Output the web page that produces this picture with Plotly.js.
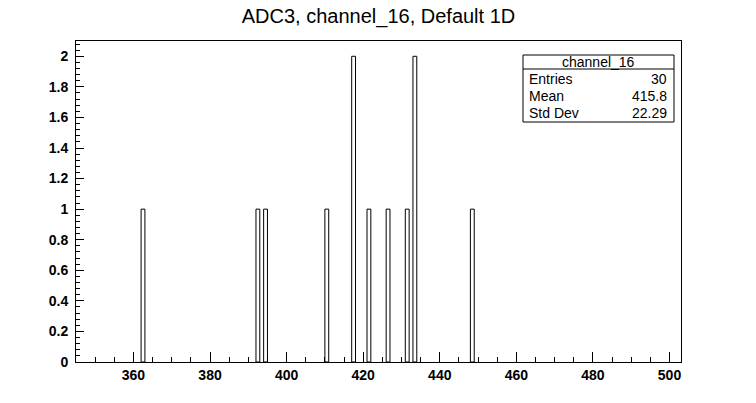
<!DOCTYPE html>
<html>
<head>
<meta charset="utf-8">
<script src="https://cdn.plot.ly/plotly-3.0.1.min.js"></script>
<style>html,body{margin:0;padding:0;background:#fff;}#chart{width:756px;height:403px;}</style>
</head>
<body>
<div id="chart"></div>
<script>
// Bin lower edges (bin width 1) and counts
const binEdges = [362, 392, 394, 410, 417, 421, 426, 431, 433, 448];
const counts   = [1, 1, 1, 1, 2, 1, 1, 1, 2, 1];
const binWidth = 1;
const xRange = [345, 503];
const yRange = [0, 2.1];
const statsLabels = ["Entries", "Mean", "Std Dev"];
const statsValues = ["30", "415.8", "22.29"];
const statsTitle = "channel_16";
const chartTitle = "ADC3, channel_16, Default 1D";

const W = 756, H = 403;
const L = 76, R = 681, T = 41, B = 362;
const px = x => (x - L) / (R - L);
const py = y => (B - y) / (B - T);

const trace = {
  type: 'bar',
  x: binEdges.map(e => e + binWidth / 2),
  y: counts,
  width: binEdges.map(() => binWidth),
  marker: {color: 'rgba(255,255,255,0)', line: {color: '#000', width: 1}},
  hoverinfo: 'x+y'
};

const boxL = px(523), boxR = px(674), boxT = py(55), boxB = py(122), boxDiv = py(69);
const shapes = [
  {type: 'rect', xref: 'paper', yref: 'paper', x0: boxL, x1: boxR, y0: boxB, y1: boxT,
   line: {color: '#000', width: 1}, fillcolor: '#fff', layer: 'above'},
  {type: 'line', xref: 'paper', yref: 'paper', x0: boxL, x1: boxR, y0: boxDiv, y1: boxDiv,
   line: {color: '#000', width: 1}, layer: 'above'}
];
const fnt = {family: 'Liberation Sans, Arial, sans-serif', size: 14, color: '#000'};
const annotations = [
  {xref: 'paper', yref: 'paper', x: (boxL + boxR) / 2, y: py(62), text: statsTitle,
   showarrow: false, xanchor: 'center', yanchor: 'middle', font: fnt}
];
const rowY = [79, 96, 113];
statsLabels.forEach((lab, i) => {
  annotations.push({xref: 'paper', yref: 'paper', x: px(527), y: py(rowY[i]), text: lab,
    showarrow: false, xanchor: 'left', yanchor: 'middle', font: fnt});
  annotations.push({xref: 'paper', yref: 'paper', x: px(669), y: py(rowY[i]), text: statsValues[i],
    showarrow: false, xanchor: 'right', yanchor: 'middle', font: fnt});
});

const tickFont = {family: 'Liberation Sans, Arial, sans-serif', size: 14, color: '#000', weight: 'bold'};
const layout = {
  width: W, height: H,
  margin: {l: L, r: W - R, t: T, b: H - B, pad: 0},
  paper_bgcolor: '#fff', plot_bgcolor: '#fff',
  showlegend: false,
  bargap: 0,
  title: {text: chartTitle, x: 0.5, xref: 'paper', xanchor: 'center', y: 1 - 16 / H, yref: 'container', yanchor: 'middle',
          font: {family: 'Liberation Sans, Arial, sans-serif', size: 20, color: '#000'}},
  xaxis: {
    range: xRange, showgrid: false, zeroline: false,
    showline: true, linecolor: '#000', linewidth: 1, mirror: true,
    ticks: 'inside', ticklen: 10, tickcolor: '#000', tickwidth: 1,
    tick0: 360, dtick: 20, tickfont: tickFont,
    minor: {ticks: 'inside', ticklen: 5, dtick: 5, tick0: 345, tickcolor: '#000', showgrid: false}
  },
  yaxis: {
    range: yRange, showgrid: false, zeroline: false,
    showline: true, linecolor: '#000', linewidth: 1, mirror: true,
    ticks: 'inside', ticklen: 8, tickcolor: '#000', tickwidth: 1,
    tick0: 0, dtick: 0.2, tickfont: tickFont, ticklabelstandoff: 4,
    minor: {ticks: 'inside', ticklen: 4, dtick: 0.04, tick0: 0, tickcolor: '#000', showgrid: false}
  },
  shapes: shapes,
  annotations: annotations
};

Plotly.newPlot('chart', [trace], layout, {displayModeBar: false, staticPlot: true});
</script>
</body>
</html>
